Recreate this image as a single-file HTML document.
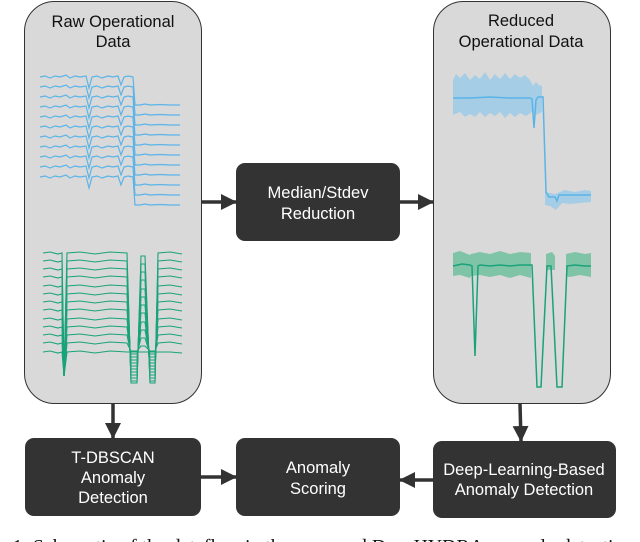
<!DOCTYPE html>
<html><head><meta charset="utf-8"><style>
html,body{margin:0;padding:0;background:#fff;width:640px;height:542px;overflow:hidden}
svg{display:block}
text{font-family:"Liberation Sans",sans-serif}
</style></head><body>
<svg width="640" height="542" viewBox="0 0 640 542" xmlns="http://www.w3.org/2000/svg">
<defs>
<marker id="ah" markerWidth="16" markerHeight="16" refX="15" refY="8" orient="auto" markerUnits="userSpaceOnUse">
<path d="M0,0 L16,8 L0,16 z" fill="#333"/></marker>
<path id="bt" d="M40,0 L45,-1 L50,1 L55,-1 L60,0 L66,-2 L70,1 L75,-1 L80,0 L86,-1 L89,11 L92,0 L97,-1 L102,1 L108,-1 L113,0 L118,-1 L121,8 L124,0 L128,-1 L133,0 L135,28 L140,28 L145,27 L150,28 L160,27.5 L170,28 L180,28" fill="none" stroke="#5ab4e8" stroke-width="1.2"/>
</defs>
<rect x="24.5" y="1.5" width="177" height="402" rx="30" fill="#d9d9d9" stroke="#333"/>
<text x="113" y="27" font-size="16.5" text-anchor="middle" fill="#111">Raw Operational</text>
<text x="113" y="47" font-size="16.5" text-anchor="middle" fill="#111">Data</text>
<g>
<use href="#bt" y="77"/><use href="#bt" y="87"/><use href="#bt" y="97"/><use href="#bt" y="107"/>
<use href="#bt" y="117"/><use href="#bt" y="127"/><use href="#bt" y="137"/><use href="#bt" y="147"/>
<use href="#bt" y="157"/><use href="#bt" y="167"/><use href="#bt" y="177"/>
</g>
<rect x="433.5" y="1.5" width="177" height="402" rx="30" fill="#d9d9d9" stroke="#333"/>
<text x="521" y="26" font-size="16.5" text-anchor="middle" fill="#111">Reduced</text>
<text x="521" y="47" font-size="16.5" text-anchor="middle" fill="#111">Operational Data</text>
<path d="M453,80 L456,74 L460,78 L465,73 L470,80 L475,75 L480,79 L485,72 L490,80 L495,74 L500,79 L505,73 L510,79 L515,74 L520,78 L525,75 L530,80 L533,86 L536,82 L540,86 L542,85 L542,112 L536,115 L532,112 L526,116 L520,113 L515,117 L510,113 L505,118 L500,112 L495,116 L490,113 L485,117 L480,112 L475,117 L470,114 L465,117 L460,112 L453,115 Z" fill="#a6cde6"/>
<path d="M545,192 L555,194 L565,190 L575,192 L585,190 L591,191 L591,202 L580,203 L570,204 L562,203 L556,210 L550,206 L545,205 Z" fill="#a6cde6"/>
<path d="M453,98 L470,98 L490,97 L510,98 L530,98 L532,99 L534,128 L536,100 L538,97 L543,97 L546,192 L549,197 L555,197 L557,201 L559,195 L570,195 L591,195" fill="none" stroke="#5ab4e8" stroke-width="1.5"/>
<path d="M453,253 L460,251 L470,255 L471,254 L480,252 L490,254 L500,251 L510,254 L520,252 L531,253 L531,278 L520,275 L510,278 L500,275 L490,277 L480,275 L471,276 L470,278 L460,275 L453,276 Z" fill="#7fc4a7"/>
<path d="M546,254 L552,252 L555,256 L555,270 L546,270 Z" fill="#7fc4a7"/>
<path d="M566,254 L575,252 L585,254 L591,253 L591,277 L580,275 L570,277 L566,276 Z" fill="#7fc4a7"/>
<path d="M453,266 L462,264 L470,265 L472,266 L475,356 L478,266 L480,265 L490,266 L500,265 L510,266 L520,265 L532,265 L537,387 L541,387 L547,266 L551,266 L557,387 L562,387 L567,266 L575,265 L585,266 L591,266" fill="none" stroke="#1aa37a" stroke-width="1.5"/>
<rect x="236" y="163" width="164" height="78" rx="9" fill="#333"/>
<text x="318" y="198" font-size="16.5" text-anchor="middle" fill="#fff">Median/Stdev</text>
<text x="318" y="219" font-size="16.5" text-anchor="middle" fill="#fff">Reduction</text>
<rect x="25" y="438" width="176" height="78" rx="9" fill="#333"/>
<text x="113" y="463" font-size="16.5" text-anchor="middle" fill="#fff">T-DBSCAN</text>
<text x="113" y="483" font-size="16.5" text-anchor="middle" fill="#fff">Anomaly</text>
<text x="113" y="503" font-size="16.5" text-anchor="middle" fill="#fff">Detection</text>
<rect x="236" y="438" width="164" height="78" rx="9" fill="#333"/>
<text x="318" y="473" font-size="16.5" text-anchor="middle" fill="#fff">Anomaly</text>
<text x="318" y="494" font-size="16.5" text-anchor="middle" fill="#fff">Scoring</text>
<rect x="433" y="441" width="183" height="77" rx="9" fill="#333"/>
<text x="524" y="475" font-size="16.5" text-anchor="middle" fill="#fff">Deep-Learning-Based</text>
<text x="524" y="495" font-size="16.5" text-anchor="middle" fill="#fff">Anomaly Detection</text>
<g stroke="#333" stroke-width="3.5" fill="none">
<line x1="202" y1="202" x2="236" y2="202" marker-end="url(#ah)"/>
<line x1="400" y1="202" x2="433" y2="202" marker-end="url(#ah)"/>
<line x1="113" y1="404" x2="113" y2="438" marker-end="url(#ah)"/>
<line x1="520" y1="404" x2="521" y2="441" marker-end="url(#ah)"/>
<line x1="201" y1="477" x2="236" y2="477" marker-end="url(#ah)"/>
<line x1="433" y1="480" x2="400" y2="480" marker-end="url(#ah)"/>
</g>
<text x="-44" y="553" font-size="19.8" fill="#111" style="font-family:'Liberation Serif',serif">Figure 1: Schematic of the dataflow in the proposed DeepHYDRA anomaly detection model</text>
<g fill="none" stroke="#1aa37a" stroke-width="1.1">
<path d="M43,253 L50,252 L58,254 L62,253 L64,376 L67,253 L80,252 L95,254 L110,252 L127,253 L131,383 L137,383 L141,256 L145,256 L150,383 L155,383 L158,253 L170,252 L182,254"/>
<path d="M43,261 L50,260 L58,262 L62,261 L64,376 L67,261 L80,260 L95,262 L110,260 L127,261 L131,381 L137,381 L141,264 L145,264 L150,381 L155,381 L158,261 L170,260 L182,262"/>
<path d="M43,269 L50,268 L58,270 L62,269 L64,376 L67,269 L80,268 L95,270 L110,268 L127,269 L131,378 L137,378 L141,272 L145,272 L150,378 L155,378 L158,269 L170,268 L182,270"/>
<path d="M43,277 L50,276 L58,278 L62,277 L64,376 L67,277 L80,276 L95,278 L110,276 L127,277 L131,375 L137,375 L141,280 L145,280 L150,375 L155,375 L158,277 L170,276 L182,278"/>
<path d="M43,286 L50,285 L58,287 L62,286 L64,376 L67,286 L80,285 L95,287 L110,285 L127,286 L131,372 L137,372 L141,289 L145,289 L150,372 L155,372 L158,286 L170,285 L182,287"/>
<path d="M43,294 L50,293 L58,295 L62,294 L64,376 L67,294 L80,293 L95,295 L110,293 L127,294 L131,369 L137,369 L141,297 L145,297 L150,369 L155,369 L158,294 L170,293 L182,295"/>
<path d="M43,302 L50,301 L58,303 L62,302 L64,376 L67,302 L80,301 L95,303 L110,301 L127,302 L131,366 L137,366 L141,305 L145,305 L150,366 L155,366 L158,302 L170,301 L182,303"/>
<path d="M43,310 L50,309 L58,311 L62,310 L64,376 L67,310 L80,309 L95,311 L110,309 L127,310 L131,363 L137,363 L141,313 L145,313 L150,363 L155,363 L158,310 L170,309 L182,311"/>
<path d="M43,319 L50,318 L58,320 L62,319 L64,376 L67,319 L80,318 L95,320 L110,318 L127,319 L131,360 L137,360 L141,322 L145,322 L150,360 L155,360 L158,319 L170,318 L182,320"/>
<path d="M43,327 L50,326 L58,328 L62,327 L64,376 L67,327 L80,326 L95,328 L110,326 L127,327 L131,357 L137,357 L141,330 L145,330 L150,357 L155,357 L158,327 L170,326 L182,328"/>
<path d="M43,335 L50,334 L58,336 L62,335 L64,376 L67,335 L80,334 L95,336 L110,334 L127,335 L131,354 L137,354 L141,338 L145,338 L150,354 L155,354 L158,335 L170,334 L182,336"/>
<path d="M43,343 L50,342 L58,344 L62,343 L64,376 L67,343 L80,342 L95,344 L110,342 L127,343 L131,351 L137,351 L141,346 L145,346 L150,351 L155,351 L158,343 L170,342 L182,344"/>
<path d="M43,352 L50,351 L58,353 L62,352 L64,376 L67,352 L80,351 L95,353 L110,351 L127,352 L170,352 L182,353"/>
</g>
</svg>
</body></html>
